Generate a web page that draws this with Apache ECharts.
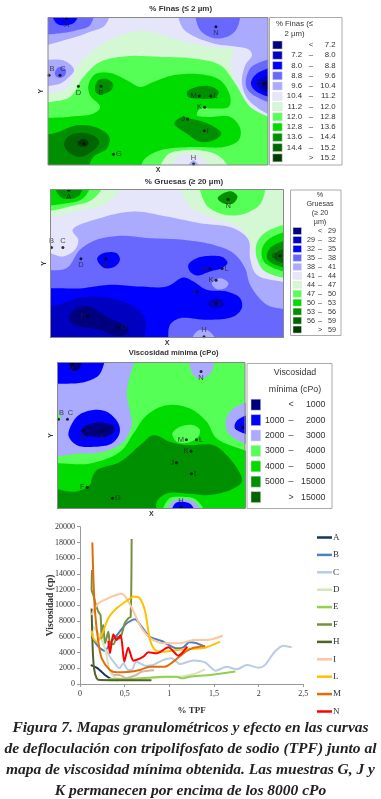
<!DOCTYPE html>
<html><head><meta charset="utf-8">
<script src="https://cdn.jsdelivr.net/npm/echarts@6/dist/echarts.min.js"></script>
<style>html,body{margin:0;padding:0;background:#fff}#c{width:381px;height:799px;filter:blur(0.4px)}</style>
</head><body><div id="c"></div>
<script>
const PAL = ['#00007f','#0000c0','#0000ff','#6868ff','#aaaaff','#e6e6fa','#d4f8d4','#55ff55','#00dc00','#008f00','#006400','#003c00'];
const [NAVY,DBLUE,BLUE,MID,LIGHT,LAV,PALE,LIME,GREEN,DGREEN,DARK,DARKEST] = PAL;

// Map units: arbitrary X/Y of the sampling map
const finasExtent = [144,803,52,494];
const finasBands = [
 [LIGHT,[[144,132],[210,115],[270,95],[315,75],[330,52],[144,52]]],
 [MID,[[144,95],[190,98],[230,90],[270,75],[280,52],[144,52]]],
 [BLUE,[[150,52],[170,70],[200,75],[225,65],[240,52]]],
 [DBLUE,[[190,52],[200,56],[210,52]]],
 [LIGHT,[[538,52],[803,52],[803,350],[750,305],[725,250],[735,195],[755,165],[745,148],[640,130],[575,105],[545,80]]],
 [MID,[[590,52],[715,52],[712,80],[690,105],[650,115],[610,100],[592,75]]],
 [MID,[[803,180],[760,195],[740,225],[738,260],[760,285],[803,310]]],
 [BLUE,[[803,200],[770,220],[752,250],[770,275],[803,292]]],
 [DBLUE,[[803,220],[780,235],[770,250],[785,270],[803,280]]],
 [NAVY,[[803,235],[790,245],[785,255],[795,265],[803,268]]],
 [LIGHT,[[144,195],[175,178],[205,188],[222,210],[205,232],[175,252],[144,250]]],
 [MID,[[165,215],[178,200],[197,208],[195,225],[180,233],[168,228]]],
 [PALE,[[144,300],[200,265],[230,200],[280,150],[330,120],[420,92],[520,115],[620,140],[700,150],[690,185],[705,240],[750,320],[803,385],[803,494],[144,494]]],
 [LIME,[[144,328],[210,290],[250,230],[300,185],[380,168],[480,170],[580,175],[660,195],[705,250],[750,320],[803,385],[803,494],[144,494]]],
 [GREEN,[[144,370],[205,350],[280,340],[300,320],[270,285],[265,255],[285,222],[330,218],[380,240],[420,260],[460,245],[520,225],[600,222],[660,240],[690,290],[685,320],[640,325],[600,325],[590,345],[620,350],[690,350],[720,385],[715,420],[670,440],[580,440],[480,450],[430,480],[410,494],[144,494]]],
 [PALE,[[475,494],[500,465],[550,450],[600,450],[660,470],[700,494]]],
 [LAV,[[510,494],[530,470],[570,462],[610,475],[630,494]]],
 [LIGHT,[[545,494],[580,480],[615,494]]],
 [DGREEN,[[285,260],[295,240],[320,236],[340,255],[330,272],[305,282],[288,278]]],
 [DGREEN,[[560,275],[590,260],[630,258],[655,275],[645,292],[600,295],[565,290]]],
 [DGREEN,[[522,370],[545,350],[570,355],[610,365],[650,385],[663,400],[640,420],[600,425],[560,400]]],
 [DGREEN,[[144,425],[175,395],[230,375],[290,382],[328,410],[320,445],[280,470],[240,494],[144,494]]],
 [DARK,[[192,430],[210,405],[250,398],[290,412],[297,430],[280,450],[240,470],[205,455]]],
 [DARKEST,[[235,425],[250,415],[265,425],[260,437],[240,437]]]
];
const finasPoints = [['A',200,54,'bottom'],['N',647,80,'bottom'],['O',790,250,'left'],['B',147,225,'topRight'],['C',180,225,'topRight'],['D',235,258,'bottom'],['E',303,258,'bottom'],['M',597,287,'left'],['L',632,287,'right'],['K',613,321,'left'],['J',562,356,'left'],['I',612,391,'right'],['F',252,430,'left'],['G',340,462,'right'],['H',580,491,'top']];
const finasLegend = [['<','7.2'],['7.2','8.0'],['8.0','8.8'],['8.8','9.6'],['9.6','10.4'],['10.4','11.2'],['11.2','12.0'],['12.0','12.8'],['12.8','13.6'],['13.6','14.4'],['14.4','15.2'],['>','15.2']];

const gruesasExtent = [152,850,44,488];
const gruesasBands = [
 [LIGHT,[[152,218],[165,240],[190,245],[225,225],[235,195],[218,165],[300,130],[400,110],[500,125],[600,145],[700,160],[745,195],[750,250],[770,300],[850,345],[850,488],[152,488]]],
 [PALE,[[540,44],[850,44],[850,320],[790,280],[770,240],[755,210],[720,160],[630,125],[565,90]]],
 [MID,[[152,298],[200,280],[240,225],[290,195],[360,183],[450,190],[550,195],[640,210],[700,235],[735,280],[750,330],[800,390],[850,420],[850,488],[152,488]]],
 [BLUE,[[152,358],[250,340],[330,330],[420,335],[500,335],[550,308],[580,320],[620,345],[680,350],[720,370],[725,400],[700,425],[620,435],[540,430],[510,450],[490,488],[152,488]]],
 [DBLUE,[[152,420],[190,385],[250,367],[330,370],[410,400],[438,440],[435,475],[420,488],[152,488]]],
 [NAVY,[[208,425],[230,400],[270,395],[310,420],[350,440],[385,460],[380,478],[345,482],[300,465],[240,455],[215,445]]],
 [BLUE,[[565,270],[590,250],[630,243],[670,248],[682,265],[665,280],[630,290],[590,302],[570,290]]],
 [BLUE,[[292,250],[310,235],[350,235],[360,255],[345,275],[315,280],[297,265]]],
 [DBLUE,[[624,385],[640,372],[665,375],[672,390],[655,400],[630,398]]],
 [LIGHT,[[635,325],[660,310],[685,325],[675,340],[650,343]]],
 [LIGHT,[[568,488],[590,470],[625,468],[665,488]]],
 [LIME,[[602,44],[788,44],[785,80],[750,110],[700,122],[650,112],[615,85]]],
 [DGREEN,[[653,70],[670,55],[695,50],[712,65],[700,85],[680,88],[660,80]]],
 [PALE,[[152,122],[250,105],[320,85],[385,44],[152,44]]],
 [LIME,[[152,103],[230,90],[280,72],[325,44],[152,44]]],
 [GREEN,[[152,85],[200,85],[250,70],[280,44],[152,44]]],
 [DGREEN,[[158,44],[180,65],[210,72],[240,60],[252,44]]],
 [LIME,[[850,150],[800,170],[770,205],[770,250],[795,290],[850,305]]],
 [GREEN,[[850,170],[810,190],[785,225],[795,265],[850,290]]],
 [DGREEN,[[850,195],[815,215],[800,245],[815,265],[850,278]]],
 [DARK,[[850,215],[830,232],[820,245],[830,258],[850,265]]]
];
const gruesasPoints = [['A',207,46,'bottom'],['N',684,73,'bottom'],['O',840,243,'left'],['B',155,218,'top'],['C',189,218,'top'],['D',243,252,'bottom'],['E',318,252,'bottom'],['M',630,282,'left'],['L',666,281,'right'],['K',648,316,'left'],['J',592,351,'left'],['I',648,385,'right'],['F',263,424,'left'],['G',355,457,'right'],['H',612,486,'top']];
const gruesasLegend = [['<','29'],['29','32'],['32','35'],['35','38'],['38','41'],['41','44'],['44','47'],['47','50'],['50','53'],['53','56'],['56','59'],['>','59']];

const viscoExtent = [172,735,52,490];
const viscoBands = [
 [LIGHT,[[172,52],[402,52],[385,110],[380,150],[390,200],[395,240],[370,290],[310,320],[240,325],[172,320]]],
 [LIME,[[172,185],[182,215],[172,250]]],
 [BLUE,[[172,52],[310,52],[300,85],[270,105],[220,115],[172,100]]],
 [NAVY,[[205,52],[215,75],[235,73],[250,52]]],
 [BLUE,[[205,270],[230,215],[275,195],[320,200],[355,235],[358,265],[335,295],[280,305],[230,300]]],
 [NAVY,[[245,255],[260,240],[300,232],[335,240],[345,255],[325,272],[270,275],[250,270]]],
 [LIGHT,[[568,52],[637,52],[635,80],[605,100],[580,90]]],
 [LIGHT,[[735,170],[700,190],[677,230],[690,270],[735,300]]],
 [BLUE,[[735,205],[712,225],[705,250],[735,270]]],
 [GREEN,[[172,368],[270,355],[360,320],[400,265],[440,210],[500,180],[570,190],[620,230],[650,280],[735,350],[735,490],[172,490]]],
 [LIME,[[517,265],[540,245],[580,240],[600,255],[590,280],[560,293],[530,290]]],
 [DGREEN,[[275,400],[290,375],[360,350],[420,300],[460,270],[510,290],[560,300],[640,300],[680,330],[720,385],[725,410],[690,435],[620,450],[560,445],[500,445],[470,470],[465,490],[172,490],[172,432],[220,440],[255,430],[272,415]]],
 [GREEN,[[475,490],[495,455],[530,445],[570,450],[620,470],[640,490]]],
 [LIME,[[485,490],[505,462],[545,455],[590,465],[625,490]]],
 [LIGHT,[[495,490],[515,470],[550,462],[590,475],[610,490]]],
 [BLUE,[[510,490],[525,475],[550,470],[575,480],[585,490]]]
];
const viscoPoints = [['A',217,55,'bottom'],['N',603,79,'bottom'],['B',175,222,'topRight'],['C',202,222,'topRight'],['D',248,257,'bottom'],['E',307,257,'bottom'],['O',730,247,'left'],['M',559,284,'left'],['L',589,284,'right'],['K',573,318,'left'],['J',529,353,'left'],['I',574,386,'right'],['F',261,426,'left'],['G',337,459,'right'],['H',543,487,'top']];
const viscoLegend = [['<','1000'],['1000','2000'],['2000','3000'],['3000','4000'],['4000','5000'],['5000','15000'],['>','15000']];

// Deflocculation curves: [% TPF, viscosity cP]
const curveA = [[.12,2400],[.19,2050],[.28,1150],[.35,650],[.42,480]];
const curveB = [[.13,6000],[.205,4750],[.28,4200],[.335,5170],[.43,6440],[.52,7700],[.615,8220],[.69,7290],[.78,6000],[.915,5470],[1.007,4870],[1.08,4530],[1.157,4660],[1.224,5300],[1.306,5170],[1.4,4750]];
const curveC = [[.28,4530],[.335,3470],[.39,2630],[.44,2000],[.485,2630],[.54,1780],[.58,1780],[.63,2840],[.73,2330],[.82,2415],[.915,2970],[1.026,3260],[1.12,2540],[1.27,3000],[1.4,2750],[1.52,1700],[1.64,2200],[1.75,1860],[1.87,2400],[2.0,2080],[2.07,2400],[2.18,4100],[2.28,4870],[2.37,4660]];
const curveD = [[.13,7500],[.205,6440],[.28,4530],[.335,1570],[.41,720],[.56,640],[.93,850],[1.12,930],[1.27,1230],[1.4,1860]];
const curveE = [[.32,640],[.56,640],[.75,800],[.93,930],[1.08,930],[1.14,720],[1.23,930],[1.455,1140],[1.74,1600]];
const curveF = [[.134,14490],[.13,11950],[.15,11300],[.168,10460],[.205,9200],[.23,8770],[.243,5800],[.26,7500],[.28,5170],[.317,6650],[.335,5170],[.373,5040],[.418,6000],[.448,5800],[.5,7700],[.54,8350],[.567,8560],[.578,18430]];
const curveH = [[.13,9600],[.142,4530],[.157,1990],[.187,720],[.224,500],[.56,470],[.8,470]];
const curveI = [[.13,8770],[.205,10250],[.354,11100],[.466,11480],[.52,10900],[.6,9200],[.69,7080],[.8,5720],[.93,5170],[1.12,5170],[1.27,5600],[1.42,5600],[1.6,6140]];
const curveL = [[.13,6780],[.15,5800],[.187,5380],[.243,6230],[.317,8350],[.41,9620],[.52,10550],[.6,11140],[.67,10890],[.73,9200],[.78,5800],[.84,4320],[.93,4110],[1.08,4320],[1.23,4450],[1.4,4620],[1.57,5380]];
const curveM = [[.138,18000],[.15,13430],[.168,9200],[.205,5380],[.243,3260],[.335,1780],[.41,1480],[.56,1570],[.67,1780],[.78,2200],[.95,2200],[1.045,2840],[1.157,3900],[1.25,4530],[1.4,4830]];
const curveN = [[.317,5500],[.335,3900],[.373,6310],[.41,5600],[.455,6230],[.496,2840],[.54,4620],[.6,2970],[.71,3470],[.765,4030],[.858,3900],[.99,4660],[1.1,3600],[1.2,4750]];
const curveExtra = [[.35,1800],[.37,1150],[.44,1150],[.52,750],[.63,1150],[.69,1550],[.83,1750]];
const curveNames = ['A','B','C','D','E','F','H','I','L','M','N'];
const curveValues = [curveA,curveB,curveC,curveD,curveE,curveF,curveH,curveI,curveL,curveM,curveN];
const curveColors = ['#17365d','#4f81bd','#b8cce4','#d7e4bc','#92d050','#76923c','#4f6228','#fac7a0','#ffc000','#e36c0a','#ff0000'];
const xTicks = {0:'0',0.5:'0,5',1:'1',1.5:'1,5',2:'2',2.5:'2,5'};

const SANS='"Liberation Sans",Arial,sans-serif', SERIF='"Liberation Serif",serif';
function bleed(p,e){
  let [x,y]=p;
  if(x<=e[0])x=e[0]-50; if(x>=e[1])x=e[1]+50;
  if(y<=e[2])y=e[2]-50; if(y>=e[3])y=e[3]+50;
  return [x,y];
}
// closed centripetal Catmull-Rom outline (does not overshoot on uneven spacing)
function outline(pts){
  const n=pts.length,out=[];
  for(let i=0;i<n;i++){
    const P0=pts[(i-1+n)%n],P1=pts[i],P2=pts[(i+1)%n],P3=pts[(i+2)%n];
    const td=(a,b)=>Math.max(Math.sqrt(Math.hypot(a[0]-b[0],a[1]-b[1])),1e-3);
    const t0=0,t1=t0+td(P0,P1),t2=t1+td(P1,P2),t3=t2+td(P2,P3);
    const L=(a,b,ta,tb,t)=>[a[0]+(b[0]-a[0])*(t-ta)/(tb-ta),a[1]+(b[1]-a[1])*(t-ta)/(tb-ta)];
    for(let k=0;k<10;k++){
      const t=t1+(t2-t1)*k/10;
      const A1=L(P0,P1,t0,t1,t),A2=L(P1,P2,t1,t2,t),A3=L(P2,P3,t2,t3,t);
      const B1=L(A1,A2,t0,t2,t),B2=L(A2,A3,t1,t3,t);
      out.push(L(B1,B2,t1,t2,t));
    }
  }
  return out;
}
function bandSeries(bands,e,idx){
  return {type:'custom',xAxisIndex:idx,yAxisIndex:idx,clip:true,silent:true,z:2,
    data:bands.map(b=>b[1][0]),
    renderItem(params,api){
      const b=bands[params.dataIndex];
      return {type:'polygon',shape:{points:outline(b[1].map(p=>bleed(p,e))).map(p=>api.coord(p))},style:{fill:b[0]}};
    }};
}
function pointSeries(pts,idx){
  return {type:'scatter',xAxisIndex:idx,yAxisIndex:idx,symbolSize:3,z:5,silent:true,clip:false,
    itemStyle:{color:'#000'},
    data:pts.map(p=>({name:p[0],value:[p[1],p[2]],label:{position:p[3]==='topRight'?'top':p[3],offset:p[3]==='topRight'?[3,0]:[0,0]}})),
    label:{show:true,formatter:'{b}',fontSize:7.5,fontFamily:SANS,color:'#222',distance:1}};
}
function mapGrid(l,t,w,h,base){return {left:l,top:t,width:w,height:h,show:true,backgroundColor:base,borderWidth:0};}
function mapX(e,idx,gap){return {type:'value',gridIndex:idx,min:e[0],max:e[1],position:'bottom',name:'X',nameLocation:'middle',nameGap:gap,nameTextStyle:{fontSize:7,fontWeight:'bold',fontFamily:SANS,color:'#333'},axisLine:{show:false,onZero:false},axisTick:{show:false},axisLabel:{show:false},splitLine:{show:false}};}
function mapY(e,idx,gap){return {type:'value',gridIndex:idx,min:e[2],max:e[3],inverse:true,position:'left',name:'Y',nameLocation:'middle',nameGap:gap,nameTextStyle:{fontSize:7,fontWeight:'bold',fontFamily:SANS,color:'#333'},axisLine:{show:false,onZero:false},axisTick:{show:false},axisLabel:{show:false},splitLine:{show:false}};}

const g=[];
function txt(text,x,y,align,font,color){g.push({type:'text',z:20,silent:true,style:{text,x,y,textAlign:align,textVerticalAlign:'middle',font,fill:color||'#333'}});}
function box(x,y,w,h,stroke){g.push({type:'rect',z:19,silent:true,shape:{x,y,width:w,height:h},style:{fill:'none',stroke:stroke||'#999',lineWidth:1}});}
function legendBlock(o){
  box(o.x,o.y,o.w,o.h,'#aaa');
  o.title.forEach((t,i)=>txt(t,o.tx,o.ty+i*o.tdy,'center',o.font));
  o.rows.forEach((r,i)=>{
    const y=o.r0+i*o.dr;
    g.push({type:'rect',z:20,silent:true,shape:{x:o.sx,y:y-o.sh/2,width:o.sw,height:o.sh},style:{fill:o.colors[i],stroke:'#ddd',lineWidth:.5}});
    if(r[0]==='<'||r[0]==='>'){txt(r[0],o.dash,y,'center',o.font);txt(r[1],o.hi,y,'right',o.font);}
    else{txt(r[0],o.lo,y,'right',o.font);txt('–',o.dash,y,'center',o.font);txt(r[1],o.hi,y,'right',o.font);}
  });
}
const F8='7.8px '+SANS;
legendBlock({x:269.5,y:17.5,w:72.5,h:147.5,title:['% Finas (≤','2 µm)'],tx:294.5,ty:24,tdy:10.3,font:F8,rows:finasLegend,colors:PAL,r0:45,dr:10.26,sx:272.7,sw:9.5,sh:8,lo:302,dash:311,hi:335.5});
legendBlock({x:290.5,y:190,w:50.5,h:145.5,title:['%','Gruesas','(≥ 20','µm)'],tx:320,ty:195,tdy:9,font:'7.2px '+SANS,rows:gruesasLegend,colors:PAL,r0:231,dr:8.96,sx:293,sw:8.5,sh:7,lo:315,dash:320,hi:336});
legendBlock({x:247,y:363.5,w:85,h:145,title:['Viscosidad','mínima (cPo)'],tx:295,ty:372.5,tdy:17,font:'8.8px '+SANS,rows:viscoLegend,colors:[NAVY,BLUE,LIGHT,LIME,GREEN,DGREEN,DARK],r0:404.7,dr:15.4,sx:251,sw:9.7,sh:11,lo:284.5,dash:291,hi:325.5});
box(48,17.5,220,147.5,'#888');
box(50.5,189.5,233,148,'#888');
box(57.5,362.5,187.5,146,'#888');

const serifAxis={fontFamily:SERIF,fontSize:8,color:'#333'};
const option={
  animation:false,backgroundColor:'#fff',
  title:[
    {text:'% Finas (≤ 2 µm)',left:180.7,top:4.5,padding:0,textAlign:'center',textStyle:{fontSize:8,fontWeight:'bold',fontFamily:SANS,color:'#333'}},
    {text:'% Gruesas (≥ 20 µm)',left:184,top:177.3,padding:0,textAlign:'center',textStyle:{fontSize:8,fontWeight:'bold',fontFamily:SANS,color:'#333'}},
    {text:'Viscosidad mínima (cPo)',left:173.7,top:349.3,padding:0,textAlign:'center',textStyle:{fontSize:7.6,fontWeight:'bold',fontFamily:SANS,color:'#333'}},
    {text:'{b|Figura 7.}{i| Mapas granulométricos y efecto en las curvas}\n{i|de defloculación con tripolifosfato de sodio (TPF) junto al}\n{i|mapa de viscosidad mínima obtenida. Las muestras G, J y}\n{i|K permanecen por encima de los 8000 cPo}',
     left:190.5,top:717,padding:0,textAlign:'center',
     textStyle:{align:'center',lineHeight:21,rich:{
       b:{fontFamily:SERIF,fontStyle:'italic',fontWeight:'bold',fontSize:15.5,color:'#222',lineHeight:21},
       i:{fontFamily:SERIF,fontStyle:'italic',fontSize:15.5,color:'#222',lineHeight:21}}}}
  ],
  grid:[mapGrid(48,17.5,220,147.5,LAV),mapGrid(50.5,189.5,233,148,LAV),mapGrid(57.5,362.5,187.5,146,LIME),{left:80,top:526.7,width:223.3,height:157.3}],
  xAxis:[mapX(finasExtent,0,2),mapX(gruesasExtent,1,2),mapX(viscoExtent,2,2),
    {type:'value',gridIndex:3,min:0,max:2.5,interval:.5,name:'% TPF',nameLocation:'middle',nameGap:22,nameTextStyle:{fontFamily:SERIF,fontSize:9,fontWeight:'bold',color:'#333'},axisLine:{lineStyle:{color:'#999'}},axisTick:{inside:false,length:3,lineStyle:{color:'#999'}},axisLabel:Object.assign({},serifAxis,{margin:6,formatter:v=>xTicks[v]}),splitLine:{show:false}}],
  yAxis:[mapY(finasExtent,0,3),mapY(gruesasExtent,1,3),mapY(viscoExtent,2,3),
    {type:'value',gridIndex:3,min:0,max:20000,interval:2000,name:'Viscosidad (cp)',nameLocation:'middle',nameGap:24,nameMoveOverlap:false,nameTextStyle:{fontFamily:SERIF,fontSize:9.5,fontWeight:'bold',color:'#333'},axisLine:{show:true,lineStyle:{color:'#999'}},axisTick:{show:true,length:3,lineStyle:{color:'#999'}},axisLabel:Object.assign({},serifAxis,{margin:5,formatter:v=>String(v)}),splitLine:{show:false}}],
  legend:{orient:'vertical',left:317,top:533,itemWidth:15,itemHeight:2.5,itemGap:8.4,icon:'rect',padding:0,data:curveNames,selectedMode:false,textStyle:{fontFamily:SERIF,fontSize:9,color:'#333',padding:[0,0,0,-4]}},
  series:[
    bandSeries(finasBands,finasExtent,0),pointSeries(finasPoints,0),
    bandSeries(gruesasBands,gruesasExtent,1),pointSeries(gruesasPoints,1),
    bandSeries(viscoBands,viscoExtent,2),pointSeries(viscoPoints,2),
    {type:'line',name:'rest',xAxisIndex:3,yAxisIndex:3,data:curveExtra,smooth:.3,showSymbol:false,lineStyle:{color:'#d9b3a8',width:2},z:3,silent:true},
    ...curveNames.map((n,i)=>({type:'line',name:n,xAxisIndex:3,yAxisIndex:3,data:curveValues[i],smooth:.25,showSymbol:false,silent:true,itemStyle:{color:curveColors[i]},lineStyle:{color:curveColors[i],width:2},z:4}))
  ],
  graphic:g
};
echarts.init(document.getElementById('c'),null,{renderer:'canvas'}).setOption(option);
</script></body></html>
